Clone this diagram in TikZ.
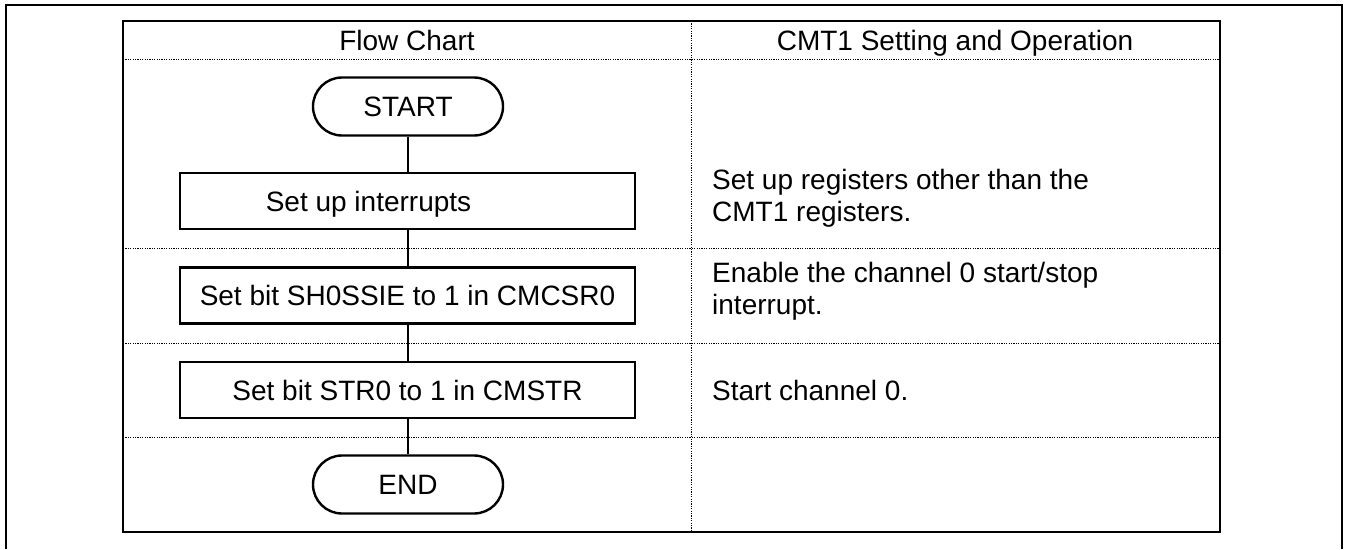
\documentclass[tikz,border=0pt]{standalone}
\usepackage{fontspec}
\setmainfont{Liberation Sans}
\begin{document}
\begin{tikzpicture}[x=1pt,y=-1pt,
  every node/.style={font=\fontsize{28}{32}\selectfont, inner sep=0pt},
  one/.style={text height=22pt, text depth=2pt},
  frame/.style={line width=2.4pt},
  grid/.style={line width=1pt, dash pattern=on 1.2pt off 1.2pt},
  term/.style={one, draw, line width=2.4pt, rectangle, rounded corners=29pt, minimum width=190pt, minimum height=58pt},
  proc/.style={one, draw, line width=2.4pt, rectangle, minimum width=455pt, minimum height=56pt},
  desc/.style={anchor=west, align=left},
  conn/.style={line width=1.2pt}]
\useasboundingbox (0,0) rectangle (1346,549);
% outer page frame
\draw[frame] (6,549) -- (6,5) -- (1342,5) -- (1342,549);
% table grid
\draw[grid] (691,21) -- (691,532);
\draw[grid] (123,59) -- (1220,59);
\draw[grid] (123,248) -- (1220,248);
\draw[grid] (123,343) -- (1220,343);
\draw[grid] (123,437) -- (1220,437);
\draw[frame] (123,21) rectangle (1220,532);
% headers
\node[one] (h1) at (407,40) {Flow Chart};
\node[one] (h2) at (955,40) {CMT1 Setting and Operation};
% flow chart
\node[term] (start) at (408,106.5) {START};
\node[proc] (b1) at (407.5,201) {Set up interrupts\hspace*{78pt}};
\node[proc] (b2) at (407.5,295.5) {Set bit SH0SSIE to 1 in CMCSR0};
\node[proc] (b3) at (407.5,390) {Set bit STR0 to 1 in CMSTR};
\node[term] (end) at (408,484.5) {END};
\draw[conn] (start.south) -- (start.south |- b1.north);
\draw[conn] (b1.south -| start.south) -- (start.south |- b2.north);
\draw[conn] (b2.south -| start.south) -- (start.south |- b3.north);
\draw[conn] (b3.south -| start.south) -- (end.north);
% descriptions
\node[desc] (d1) at (712,198) {Set up registers other than the\\CMT1 registers.};
\node[desc] (d2) at (712,291) {Enable the channel 0 start/stop\\interrupt.};
\node[desc] (d3) at (712,390) {Start channel 0.};
\end{tikzpicture}
\end{document}
